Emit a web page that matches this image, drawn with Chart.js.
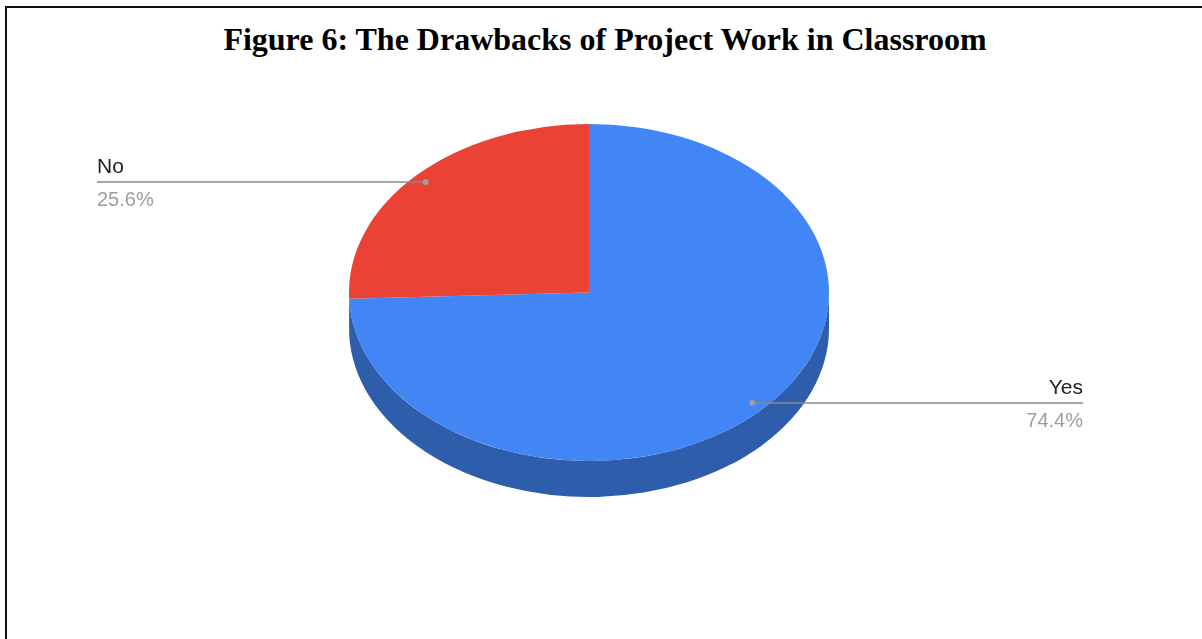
<!DOCTYPE html>
<html>
<head>
<meta charset="utf-8">
<script src="https://cdn.jsdelivr.net/npm/chart.js@4"></script>
<style>
  html, body { margin:0; padding:0; background:#fff; }
  #wrap { position:relative; width:1202px; height:639px; overflow:hidden; }
  #frame { position:absolute; left:5px; top:6px; width:1300px; height:700px; border-top:2px solid #111; border-left:2px solid #111; }
  #title { position:absolute; left:0; top:21px; width:1210px; text-align:center;
           font-family:'Liberation Serif','Times New Roman',serif; font-weight:bold; font-size:32px; color:#000; }
  canvas { position:absolute; left:0; top:0; }
</style>
</head>
<body>
<div id="wrap">
  <div id="frame"></div>
  <div id="title">Figure 6: The Drawbacks of Project Work in Classroom</div>
  <canvas id="c" width="1202" height="639"></canvas>
</div>
<script>
const categories = ['Yes', 'No'];
const values = [74.4, 25.6];
const percentLabels = ['74.4%', '25.6%'];

const topColors = ['#4285f4', '#ea4335'];
const sideColors = ['#2e5eab', '#a8302a'];

const TILT = 168.5 / 240;
const CENTER_Y = 292.5;
const DEPTH = 36;
const LABEL_F = 0.945;
const LABEL_LEFT_X = 97;
const LABEL_RIGHT_X = 1083;

function projector(chart) {
  const meta = chart.getDatasetMeta(0);
  const a = meta.data[0];
  return { meta, cx: a.x, cy: a.y, r: a.outerRadius };
}

const pie3d = {
  id: 'pie3d',
  beforeDatasetsDraw(chart) {
    const ctx = chart.ctx;
    const { meta, cx, cy, r } = projector(chart);
    ctx.save();
    meta.data.forEach((arc, i) => {
      const a1 = Math.max(arc.startAngle, 0);
      const a2 = Math.min(arc.endAngle, Math.PI);
      if (a2 <= a1) return;
      ctx.beginPath();
      ctx.ellipse(cx, CENTER_Y, r, r * TILT, 0, a1, a2, false);
      ctx.lineTo(cx + r * Math.cos(a2), CENTER_Y + r * TILT * Math.sin(a2) + DEPTH);
      ctx.ellipse(cx, CENTER_Y + DEPTH, r, r * TILT, 0, a2, a1, true);
      ctx.closePath();
      ctx.fillStyle = sideColors[i];
      ctx.fill();
    });
    ctx.restore();
    ctx.save();
    ctx.translate(0, CENTER_Y);
    ctx.scale(1, TILT);
    ctx.translate(0, -cy);
  },
  afterDatasetsDraw(chart) {
    const ctx = chart.ctx;
    ctx.restore();
    const { meta, cx, r } = projector(chart);
    meta.data.forEach((arc, i) => {
      const mid = (arc.startAngle + arc.endAngle) / 2;
      const px = cx + LABEL_F * r * Math.cos(mid);
      const py = CENTER_Y + LABEL_F * r * TILT * Math.sin(mid);
      const left = Math.cos(mid) < 0;
      const ex = left ? LABEL_LEFT_X : LABEL_RIGHT_X;
      ctx.save();
      ctx.strokeStyle = '#8a8a8a';
      ctx.lineWidth = 1.5;
      ctx.beginPath();
      ctx.moveTo(px, py);
      ctx.lineTo(ex, py);
      ctx.stroke();
      ctx.fillStyle = '#9e9e9e';
      ctx.beginPath();
      ctx.arc(px, py, 3, 0, Math.PI * 2);
      ctx.fill();
      ctx.textAlign = left ? 'left' : 'right';
      ctx.textBaseline = 'alphabetic';
      ctx.fillStyle = '#222';
      ctx.font = '21px "Liberation Sans", Arial, sans-serif';
      ctx.fillText(categories[i], ex, py - 9);
      ctx.fillStyle = '#9e9e9e';
      ctx.font = '20px "Liberation Sans", Arial, sans-serif';
      ctx.fillText(percentLabels[i], ex, py + 24);
      ctx.restore();
    });
  }
};

new Chart(document.getElementById('c'), {
  type: 'pie',
  data: {
    labels: categories,
    datasets: [{
      data: values,
      backgroundColor: topColors,
      borderWidth: 0,
      hoverOffset: 0,
      offset: 0
    }]
  },
  options: {
    responsive: false,
    animation: false,
    events: [],
    rotation: 0,
    layout: { padding: { left: 349, right: 373, top: 0, bottom: 0 } },
    plugins: { legend: { display: false }, tooltip: { enabled: false }, title: { display: false } }
  },
  plugins: [pie3d]
});
</script>
</body>
</html>
